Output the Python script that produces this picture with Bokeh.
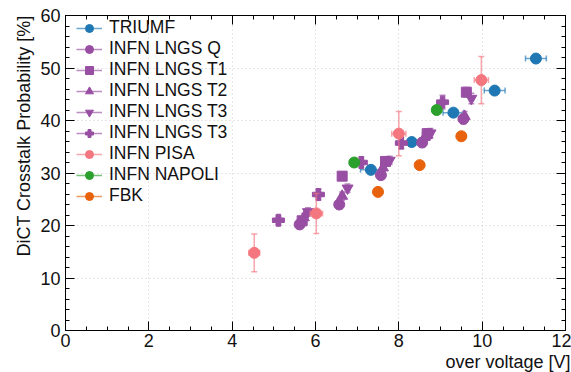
import numpy as np
from bokeh.plotting import figure
from bokeh.models import (ColumnDataSource, Legend, LegendItem, LinearAxis, Range1d,
                          Title, SingleIntervalTicker, CustomJSTickFormatter)
from bokeh.embed import file_html
from bokeh.resources import INLINE

# ---------------- data ----------------
triumf_x = [7.33, 8.31, 9.31, 10.30, 11.29]
triumf_y = [30.6, 35.9, 41.5, 45.7, 51.8]
triumf_xe = [0.25, 0.25, 0.25, 0.25, 0.25]
triumf_ye = [0.4, 0.4, 0.4, 0.4, 0.4]

lngs_q_x = [5.62, 6.57, 7.57, 8.56, 9.55]
lngs_q_y = [20.2, 24.0, 29.6, 35.8, 40.3]
lngs_q_xe = [0.05, 0.05, 0.05, 0.05, 0.05]
lngs_q_ye = [0.8, 0.8, 0.8, 0.8, 0.9]

lngs_t1_x = [5.68, 6.64, 7.68, 8.68, 9.62]
lngs_t1_y = [20.9, 29.4, 32.2, 37.5, 45.4]
lngs_t1_xe = [0.05, 0.05, 0.05, 0.05, 0.05]
lngs_t1_ye = [0.8, 0.8, 0.8, 0.9, 0.9]

lngs_t2_x = [5.72, 6.64, 7.62, 8.62, 9.58]
lngs_t2_y = [21.5, 25.6, 31.0, 36.8, 40.8]
lngs_t2_xe = [0.05, 0.05, 0.05, 0.05, 0.05]
lngs_t2_ye = [0.8, 0.8, 0.8, 0.8, 0.9]

lngs_t3_x = [5.82, 6.77, 7.78, 8.76, 9.74]
lngs_t3_y = [22.6, 27.1, 32.4, 37.6, 44.2]
lngs_t3_xe = [0.05, 0.05, 0.05, 0.05, 0.05]
lngs_t3_ye = [0.8, 0.8, 0.8, 0.9, 1.0]

lngs_t3b_x = [5.11, 6.07, 7.10, 8.06, 9.05]
lngs_t3b_y = [21.0, 25.9, 32.0, 35.7, 43.5]
lngs_t3b_xe = [0.06, 0.06, 0.06, 0.06, 0.06]
lngs_t3b_ye = [0.8, 1.0, 1.0, 1.1, 1.3]

pisa_x = [4.53, 6.02, 8.00, 9.98]
pisa_y = [14.8, 22.3, 37.5, 47.7]
pisa_xe = [0.13, 0.15, 0.17, 0.17]
pisa_ye = [3.6, 3.8, 4.2, 4.5]

napoli_x = [6.93, 8.91]
napoli_y = [32.0, 42.0]
napoli_xe = [0.0, 0.0]
napoli_ye = [0.0, 0.0]

fbk_x = [7.50, 8.50, 9.50]
fbk_y = [26.4, 31.5, 37.0]
fbk_xe = [0.0, 0.0, 0.0]
fbk_ye = [0.0, 0.0, 0.0]

x_label = "over voltage [V]"
y_label = "DiCT Crosstalk Probability [%]"

FONT = "Liberation Sans"
PURPLE = "#984ea3"

series = [
    ("TRIUMF", triumf_x, triumf_y, triumf_xe, triumf_ye, "#1f77b4", "circle", 11),
    ("INFN LNGS Q", lngs_q_x, lngs_q_y, lngs_q_xe, lngs_q_ye, PURPLE, "circle", 11),
    ("INFN LNGS T1", lngs_t1_x, lngs_t1_y, lngs_t1_xe, lngs_t1_ye, PURPLE, "square", 10),
    ("INFN LNGS T2", lngs_t2_x, lngs_t2_y, lngs_t2_xe, lngs_t2_ye, PURPLE, "triangle", 11),
    ("INFN LNGS T3", lngs_t3_x, lngs_t3_y, lngs_t3_xe, lngs_t3_ye, PURPLE, "inverted_triangle", 11),
    ("INFN LNGS T3", lngs_t3b_x, lngs_t3b_y, lngs_t3b_xe, lngs_t3b_ye, PURPLE, "plus", 12),
    ("INFN PISA", pisa_x, pisa_y, pisa_xe, pisa_ye, "#f4777f", "circle", 11),
    ("INFN NAPOLI", napoli_x, napoli_y, napoli_xe, napoli_ye, "#2ca02c", "circle", 11),
    ("FBK", fbk_x, fbk_y, fbk_xe, fbk_ye, "#e8620c", "circle", 11),
]

# ---------------- figure ----------------
p = figure(width=571, height=372, output_backend="svg", toolbar_location=None,
           x_range=Range1d(0, 12), y_range=Range1d(0, 60),
           min_border_left=65, min_border_right=6, min_border_top=15, min_border_bottom=42)
p.background_fill_color = "white"
p.border_fill_color = "white"
p.outline_line_color = "black"
p.outline_line_width = 1

xt = SingleIntervalTicker(interval=2, num_minor_ticks=4)
yt = SingleIntervalTicker(interval=10, num_minor_ticks=5)
xax = p.below[0]
yax = p.left[0]
xax.ticker = xt
yax.ticker = yt
p.xgrid.ticker = xt
p.ygrid.ticker = yt
for g in (p.xgrid, p.ygrid):
    g.grid_line_color = "#cccccc"
    g.grid_line_dash = "1 3"
    g.grid_line_width = 1

for ax in (xax, yax):
    ax.axis_line_color = "black"
    ax.major_tick_line_color = "black"
    ax.minor_tick_line_color = "black"
    ax.major_tick_in = 9
    ax.major_tick_out = 0
    ax.minor_tick_in = 4
    ax.minor_tick_out = 0
    ax.major_label_text_font = FONT
    ax.major_label_text_font_size = "18px"
    ax.major_label_text_color = "#111111"
xax.major_label_standoff = 3
yax.major_label_standoff = 5

for side, tick in (("above", xt), ("right", yt)):
    ax = LinearAxis(ticker=tick, formatter=CustomJSTickFormatter(code="return ''"))
    ax.axis_line_color = "black"
    ax.major_tick_line_color = "black"
    ax.minor_tick_line_color = "black"
    ax.major_tick_in = 9
    ax.major_tick_out = 0
    ax.minor_tick_in = 4
    ax.minor_tick_out = 0
    ax.major_label_standoff = 0
    p.add_layout(ax, side)

# ---------------- data glyphs ----------------
items = []
for name, x, y, xe, ye, color, marker, size in series:
    x = np.array(x); y = np.array(y); xe = np.array(xe); ye = np.array(ye)
    src = ColumnDataSource(dict(x=x, y=y, xl=x - xe, xh=x + xe, yl=y - ye, yh=y + ye))
    ealpha = 0.65
    h = p.segment("xl", "y", "xh", "y", source=src, line_color=color,
                  line_alpha=ealpha, line_width=1.5)
    p.segment("x", "yl", "x", "yh", source=src, line_color=color,
              line_alpha=ealpha, line_width=1.5)
    if max(ye) > 0:
        p.scatter("x", "yl", source=src, marker="dash", size=6, line_color=color,
                  line_alpha=ealpha, line_width=1.5)
        p.scatter("x", "yh", source=src, marker="dash", size=6, line_color=color,
                  line_alpha=ealpha, line_width=1.5)
    if max(xe) > 0:
        p.scatter("xl", "y", source=src, marker="dash", angle=np.pi / 2, size=6,
                  line_color=color, line_alpha=ealpha, line_width=1.5)
        p.scatter("xh", "y", source=src, marker="dash", angle=np.pi / 2, size=6,
                  line_color=color, line_alpha=ealpha, line_width=1.5)
    m = p.scatter("x", "y", source=src, marker=marker, size=size,
                  fill_color=color, line_color=color, line_width=1)
    items.append(LegendItem(label=name, renderers=[h, m]))

legend = Legend(items=items, location=(11, 124),
                label_text_font=FONT, label_text_font_size="17.5px",
                label_text_color="#111111",
                glyph_width=26, glyph_height=20, label_height=20,
                spacing=0, padding=0, margin=0, label_standoff=7,
                border_line_alpha=0, background_fill_alpha=0)
p.add_layout(legend)

# axis titles as side-panel titles, aligned at the far ends of the axes (ROOT style)
xtitle = Title(text=x_label, align="right", text_font=FONT, text_font_size="18px",
               text_font_style="normal", text_color="#111111", standoff=0, offset=-5)
ytitle = Title(text=y_label, align="right", text_font=FONT, text_font_size="18px",
               text_font_style="normal", text_color="#111111", standoff=8, offset=0)
p.add_layout(xtitle, "below")
p.add_layout(ytitle, "left")

open("out.html", "w").write(file_html(p, INLINE))
